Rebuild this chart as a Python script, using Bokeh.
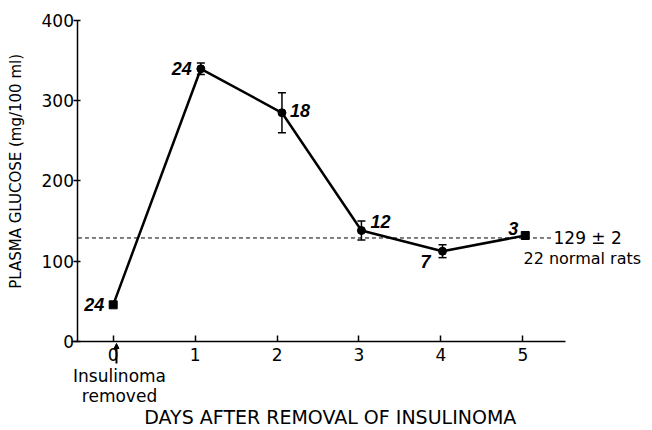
import math
from bokeh.plotting import figure
from bokeh.models import (ColumnDataSource, Range1d, Whisker, TeeHead, Label,
                          Arrow, NormalHead, FixedTicker)
from bokeh.core.properties import value
from bokeh.embed import file_html
from bokeh.resources import INLINE

# ---- data ----
days = [0, 1.07, 2.06, 3.03, 4.02, 5.03]
glucose = [45.7, 339.8, 285.0, 138.3, 112.5, 132.1]
sem = [0, 7.2, 25.0, 11.7, 8.0, 0]
n_rats = ["24", "24", "18", "12", "7", "3"]
point_kind = ["square", "circle", "circle", "circle", "circle", "square"]
normal_mean = 129
normal_extent = [-0.43, 5.35]
normal_label = "129 ± 2"
normal_n_label = "22 normal rats"
x_ticks = [0, 1, 2, 3, 4, 5]
y_ticks = [0, 100, 200, 300, 400]
day0_note = ["Insulinoma", "removed"]
x_title = "DAYS AFTER REMOVAL OF INSULINOMA"
y_title = "PLASMA GLUCOSE (mg/100 ml)"

# ---- layout (data units of the plot scales) ----
X_AXIS_BOUNDS = (-0.51, 5.52)
Y_AXIS_AT = -0.43
note_x, note_y = 0.077, [-43.2, -68.1]
arrow_x, arrow_y = 0.04, (-27.4, -2.5)
xtitle_pos = (2.65, -94.5)
ytitle_pos = (-1.19, 212)
normal_label_pos = (5.375, normal_mean)
normal_n_pos = (5.008, 104)

# ---- label placement for n (screen px; dy positive = down) ----
lab_dx = [-9, -9, 8, 9, -17, -12]
lab_dy = [0, 0, -2, -9, 10, -7]
lab_align = ["right", "right", "left", "left", "center", "center"]

FONT = "DejaVu Sans"

p = figure(width=650, height=428, output_backend="svg", toolbar_location=None,
           x_range=Range1d(-1.3757, 6.5588), y_range=Range1d(-108.4, 424.9),
           min_border=0)
p.outline_line_color = None
p.grid.visible = False
p.background_fill_color = "white"

# axes, pinned to the data origin
p.xaxis.fixed_location = 0
p.yaxis.fixed_location = Y_AXIS_AT
p.xaxis.bounds = X_AXIS_BOUNDS
p.yaxis.bounds = (0, 400)
p.xaxis.ticker = FixedTicker(ticks=x_ticks)
p.yaxis.ticker = FixedTicker(ticks=y_ticks)
for ax in (p.xaxis[0], p.yaxis[0]):
    ax.axis_line_color = "black"
    ax.axis_line_width = 1.5
    ax.major_tick_line_color = "black"
    ax.major_tick_line_width = 1.5
    ax.minor_tick_line_color = None
    ax.major_label_text_font = FONT
    ax.major_label_text_font_size = "17px"
    ax.major_label_text_color = "black"

p.xaxis.major_tick_in = 6
p.xaxis.major_tick_out = 0
p.xaxis.major_label_standoff = 6
p.yaxis.major_tick_in = 3
p.yaxis.major_tick_out = 4
p.yaxis.major_label_standoff = 0

# axis titles
p.add_layout(Label(x=xtitle_pos[0], y=xtitle_pos[1], text=x_title,
                   text_align="center", text_baseline="alphabetic",
                   text_font=FONT, text_font_size="19px", text_color="black"))
p.add_layout(Label(x=ytitle_pos[0], y=ytitle_pos[1], text=y_title, angle=math.pi / 2,
                   text_align="center", text_baseline="middle",
                   text_font=FONT, text_font_size="15px", text_color="black"))

# normal reference line
p.line(normal_extent, [normal_mean, normal_mean], line_color="black",
       line_width=1, line_dash="4 3")

# main series
src = ColumnDataSource(dict(x=days, y=glucose, n=n_rats, kind=point_kind,
                            dx=lab_dx, dy=lab_dy, al=lab_align))
p.line("x", "y", source=src, line_color="black", line_width=2.5)

ebar = ColumnDataSource(dict(
    x=[d for d, s in zip(days, sem) if s > 0],
    lo=[g - s for g, s in zip(glucose, sem) if s > 0],
    hi=[g + s for g, s in zip(glucose, sem) if s > 0]))
p.add_layout(Whisker(source=ebar, base="x", lower="lo", upper="hi",
                     line_color="black", line_width=1.5,
                     upper_head=TeeHead(size=8, line_color="black", line_width=1.5),
                     lower_head=TeeHead(size=8, line_color="black", line_width=1.5)))

p.scatter("x", "y", source=src, marker="kind", size=8, fill_color="black",
          line_color="black")

p.text("x", "y", text="n", source=src, x_offset="dx", y_offset="dy",
       text_align="al", text_baseline="middle",
       text_font=value("Liberation Sans"), text_font_style="bold italic",
       text_font_size="18px", text_color="black")

# normal value annotation
p.add_layout(Label(x=normal_label_pos[0], y=normal_label_pos[1], text=normal_label,
                   text_align="left", text_baseline="middle",
                   text_font=FONT, text_font_size="17px", text_color="black"))
p.add_layout(Label(x=normal_n_pos[0], y=normal_n_pos[1], text=normal_n_label,
                   text_align="left", text_baseline="middle",
                   text_font=FONT, text_font_size="16px", text_color="black"))

# day-0 note below axis
p.add_layout(Arrow(x_start=arrow_x, y_start=arrow_y[0], x_end=arrow_x, y_end=arrow_y[1],
                   line_color="black", line_width=2,
                   end=NormalHead(size=5, fill_color="black", line_color="black")))
for line, yy in zip(day0_note, note_y):
    p.add_layout(Label(x=note_x, y=yy, text=line, text_align="center",
                       text_baseline="alphabetic",
                       text_font=FONT, text_font_size="17px", text_color="black"))

open("out.html", "w").write(file_html(p, INLINE))
